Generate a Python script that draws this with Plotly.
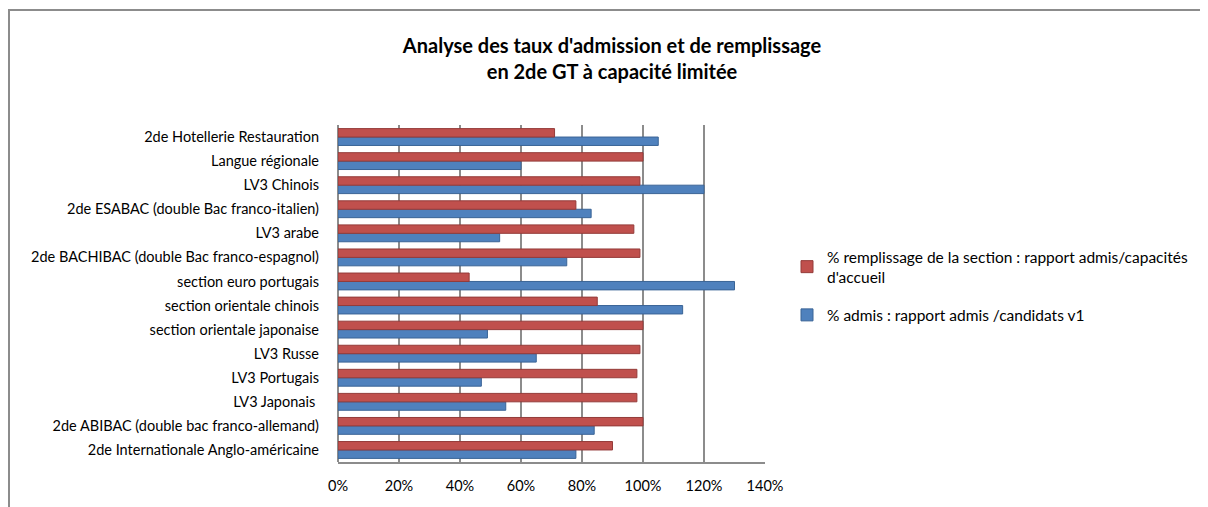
import plotly.graph_objects as go

categories = [
    "2de Internationale Anglo-américaine",
    "2de ABIBAC (double bac franco-allemand)",
    "LV3 Japonais ",
    "LV3 Portugais",
    "LV3 Russe",
    "section orientale japonaise",
    "section orientale chinois",
    "section euro portugais",
    "2de BACHIBAC (double Bac franco-espagnol)",
    "LV3 arabe",
    "2de ESABAC (double Bac franco-italien)",
    "LV3 Chinois",
    "Langue régionale",
    "2de Hotellerie Restauration",
]
remplissage = [0.90, 1.00, 0.98, 0.98, 0.99, 1.00, 0.85, 0.43, 0.99, 0.97, 0.78, 0.99, 1.00, 0.71]
admis = [0.78, 0.84, 0.55, 0.47, 0.65, 0.49, 1.13, 1.30, 0.75, 0.53, 0.83, 1.20, 0.60, 1.05]
x_ticks = [0, 0.2, 0.4, 0.6, 0.8, 1.0, 1.2, 1.4]

name_red = "% remplissage de la section : rapport admis/capacités<br>d'accueil"
name_blue = "% admis : rapport admis /candidats v1"

# page body adds an 8px offset; figure sized to fit the window
W, H = 1200, 499
L, R, T, B = 330, 443, 117, 45
PW, PH = W - L - R, H - T - B

fig = go.Figure()
fig.add_trace(go.Bar(
    y=categories, x=admis, orientation="h", name=name_blue,
    legendgroup="b", legendrank=2,
    marker=dict(color="#4F81BD", line=dict(color="#3A6496", width=1)),
))
fig.add_trace(go.Bar(
    y=categories, x=remplissage, orientation="h", name=name_red,
    legendgroup="r", legendrank=1,
    marker=dict(color="#C0504D", line=dict(color="#943B39", width=1)),
))

font = "Lato, 'Open Sans', sans-serif"

fig.update_layout(
    width=W, height=H,
    margin=dict(l=L, r=R, t=T, b=B),
    paper_bgcolor="white", plot_bgcolor="white",
    barmode="group", bargap=0.3, bargroupgap=0.0,
    font=dict(family=font, size=14.5, color="#000000"),
    title=dict(
        text="<b>Analyse des taux d'admission et de remplissage<br>en 2de GT à capacité limitée</b>",
        x=(604) / W, xanchor="center", y=1 - 45 / H, yanchor="top",
        font=dict(family=font, size=20, color="#000000"),
    ),
    legend=dict(
        x=(779 - L) / PW, xanchor="left", y=(H - B - 232) / PH, yanchor="top",
        traceorder="grouped", font=dict(family=font, size=15.5),
        tracegroupgap=15, itemwidth=30,
    ),
    xaxis=dict(
        range=[0, 1.4], tickvals=x_ticks, tickformat=".0%",
        showgrid=True, gridcolor="#8C8C8C", gridwidth=2,
        zeroline=True, zerolinecolor="#8C8C8C", zerolinewidth=2,
        showline=True, linecolor="#8C8C8C", linewidth=2,
        ticks="", ticklabelstandoff=10, mirror=False,
        tickfont=dict(family=font, size=14.5),
    ),
    yaxis=dict(
        showgrid=False, ticks="", ticklabelstandoff=18,
        showline=False,
        tickfont=dict(family=font, size=14.5),
    ),
    shapes=[
        dict(type="rect", xref="paper", yref="paper",
             x0=(1 - L) / PW, x1=(W + 20 - L) / PW,
             y0=(-B - 20) / PH, y1=(H - B - 2) / PH,
             line=dict(color="#8C8C8C", width=2), layer="below"),
    ],
)

fig.write_html("out.html")
